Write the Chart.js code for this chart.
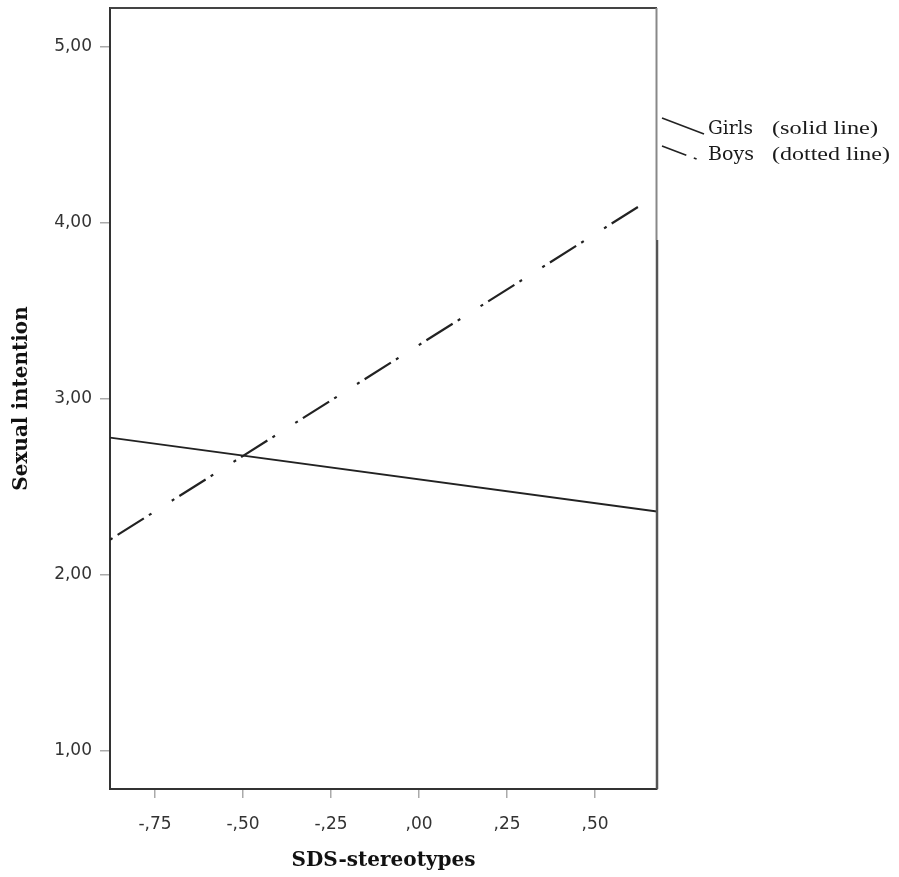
<!DOCTYPE html>
<html>
<head>
<meta charset="utf-8">
<script src="https://cdn.jsdelivr.net/npm/chart.js@4.4.1/dist/chart.umd.min.js"></script>
<style>
  html, body { margin: 0; padding: 0; background: #fff; }
  #wrap { width: 899px; height: 877px; position: relative; }
</style>
</head>
<body>
<div id="wrap"><canvas id="chart" width="899" height="877"></canvas></div>
<script>
// SDS-stereotypes (x) vs predicted sexual intention (y)
const seriesNames = ['Girls', 'Boys'];
const girlsX = [-0.878, 0.676];
const girlsY = [2.78, 2.36];
const boysX = [-0.878, 0.622];
const boysY = [2.20, 4.09];
const xTicks = [-0.75, -0.5, -0.25, 0, 0.25, 0.5];
const yTicks = [1, 2, 3, 4, 5];
const legendNotes = ['(solid line)', '(dotted line)'];

const toPoints = (xs, ys) => xs.map((x, i) => ({ x, y: ys[i] }));

// SPSS style numbers: 5,00  -,75  ,00
function fmt(v) {
    return v.toFixed(2).replace(/^(-?)0\./, '$1,').replace('.', ',');
}

// text stretched to a given width (the source picture is a bit wide)
function wideText(ctx, text, x, y, width) {
    const w = ctx.measureText(text).width;
    ctx.save();
    ctx.translate(x, y);
    ctx.scale(width / w, 1);
    ctx.fillText(text, 0, 0);
    ctx.restore();
}

// frame on top/right plus the outside legend
const framePlugin = {
    id: 'frame',
    afterDraw(chart) {
        const { ctx, chartArea: a } = chart;
        ctx.save();
        ctx.strokeStyle = '#444';
        ctx.lineWidth = 2;
        ctx.beginPath();
        ctx.moveTo(a.left, a.top);
        ctx.lineTo(a.right, a.top);
        ctx.stroke();
        // right edge: thin grey up top, heavier below
        ctx.strokeStyle = '#888';
        ctx.lineWidth = 2;
        ctx.beginPath();
        ctx.moveTo(a.right - 0.5, a.top);
        ctx.lineTo(a.right - 0.5, 240);
        ctx.stroke();
        ctx.strokeStyle = '#555';
        ctx.lineWidth = 2.5;
        ctx.beginPath();
        ctx.moveTo(a.right, 240);
        ctx.lineTo(a.right, a.bottom);
        ctx.stroke();

        // legend
        ctx.strokeStyle = '#222';
        ctx.lineWidth = 1.6;
        ctx.beginPath();
        ctx.moveTo(662, 118);
        ctx.lineTo(704, 134);
        ctx.stroke();
        ctx.setLineDash([26, 8, 3, 20]);
        ctx.beginPath();
        ctx.moveTo(662, 146);
        ctx.lineTo(699, 160);
        ctx.stroke();
        ctx.setLineDash([]);

        ctx.fillStyle = '#1a1a1a';
        ctx.textBaseline = 'alphabetic';
        ctx.font = '18px "DejaVu Serif", serif';
        wideText(ctx, seriesNames[0], 708, 134, 45);
        wideText(ctx, seriesNames[1], 708, 160, 46);
        ctx.font = '19px "Liberation Serif", serif';
        wideText(ctx, legendNotes[0], 772, 134, 106);
        wideText(ctx, legendNotes[1], 772, 160, 118);
        ctx.restore();
    }
};

const tickFont = { family: '"DejaVu Sans", sans-serif', size: 17 };
const titleFont = { family: '"DejaVu Serif", serif', size: 20, weight: 'bold' };

new Chart(document.getElementById('chart'), {
    type: 'scatter',
    data: {
        datasets: [{
            label: seriesNames[0],
            data: toPoints(girlsX, girlsY),
            showLine: true,
            borderColor: '#222',
            borderWidth: 1.8,
            pointRadius: 0
        }, {
            label: seriesNames[1],
            data: toPoints(boysX, boysY),
            showLine: true,
            borderColor: '#222',
            borderWidth: 2.2,
            borderDash: [3, 6, 31, 6, 3, 24],
            pointRadius: 0
        }]
    },
    options: {
        responsive: false,
        animation: false,
        layout: { padding: { top: 8, right: 242, left: 0, bottom: 0 } },
        plugins: { legend: { display: false }, tooltip: { enabled: false } },
        scales: {
            x: {
                type: 'linear',
                min: -0.878,
                max: 0.676,
                afterBuildTicks: s => { s.ticks = xTicks.map(v => ({ value: v })); },
                afterFit: s => { s.height = 88; s.paddingLeft = 0; s.paddingRight = 0; },
                grid: { drawOnChartArea: false, drawTicks: true, tickLength: 9, color: '#aaa', lineWidth: 1.5 },
                border: { display: true, color: '#333', width: 2 },
                ticks: {
                    callback: v => fmt(v),
                    color: '#333',
                    font: tickFont,
                    padding: 16,
                    maxRotation: 0
                },
                title: {
                    display: true,
                    text: 'SDS-stereotypes',
                    color: '#111',
                    font: titleFont,
                    padding: { top: 6 }
                }
            },
            y: {
                type: 'linear',
                min: 0.784,
                max: 5.22,
                afterBuildTicks: s => { s.ticks = yTicks.map(v => ({ value: v })); },
                afterFit: s => { s.width = 110; s.paddingTop = 0; s.paddingBottom = 0; },
                grid: { drawOnChartArea: false, drawTicks: true, tickLength: 10, color: '#aaa', lineWidth: 1.5 },
                border: { display: true, color: '#333', width: 2 },
                ticks: {
                    callback: v => fmt(v),
                    color: '#333',
                    font: tickFont,
                    padding: 8
                },
                title: {
                    display: true,
                    text: 'Sexual intention',
                    color: '#111',
                    font: titleFont,
                    padding: { top: 10, bottom: 0 }
                }
            }
        }
    },
    plugins: [framePlugin]
});
</script>
</body>
</html>
